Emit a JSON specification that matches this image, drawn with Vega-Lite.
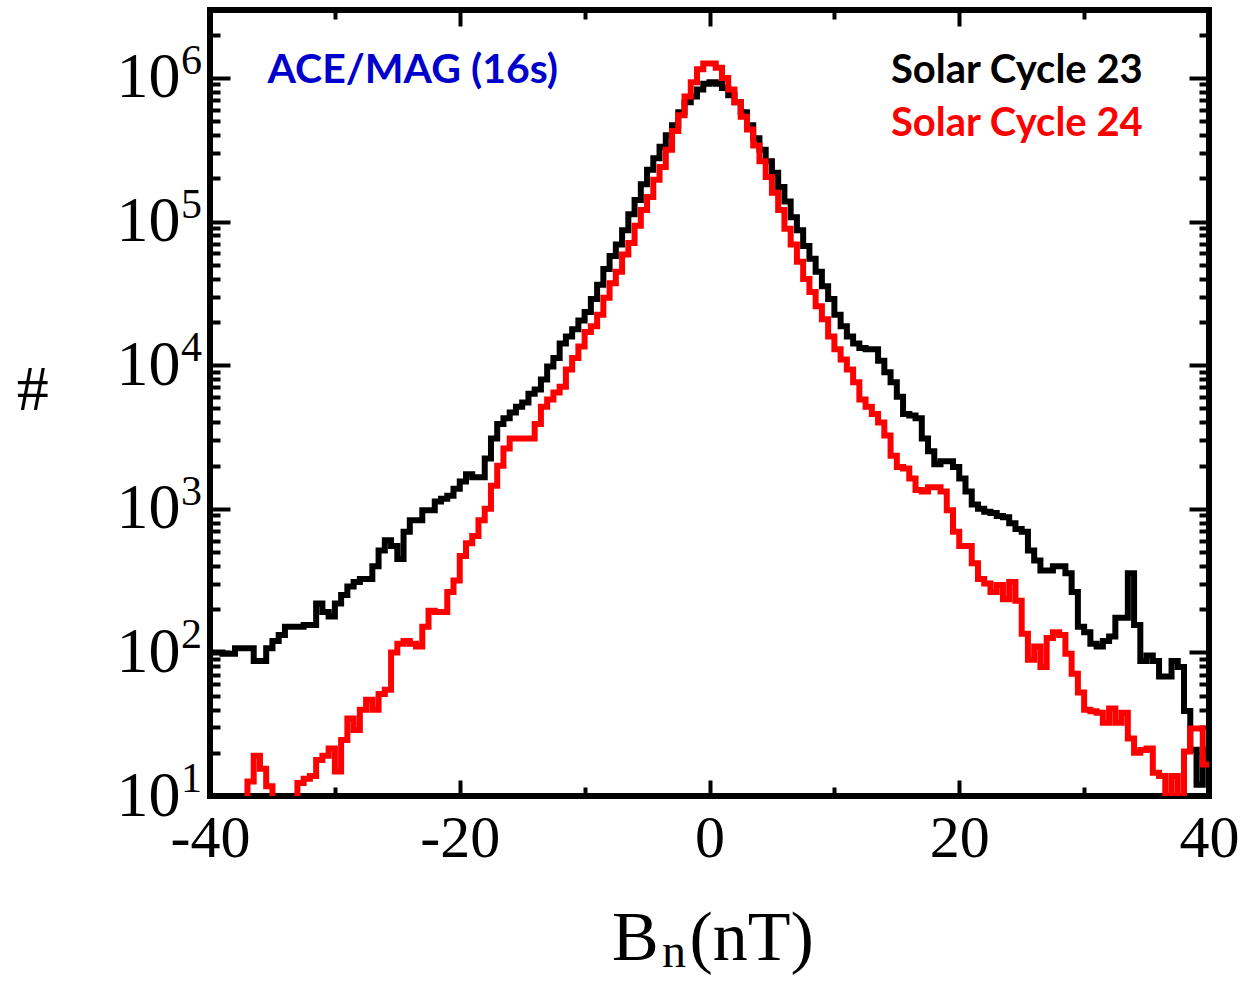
{
  "$schema": "https://vega.github.io/schema/vega-lite/v6.json",
  "width": 999,
  "height": 786,
  "autosize": "none",
  "padding": {"left": 210, "top": 10, "right": 31, "bottom": 187},
  "background": "white",
  "config": {
    "view": {"stroke": "#000000", "strokeWidth": 6},
    "font": "Liberation Serif",
    "axis": {"domain": false, "grid": false, "tickColor": "#000000", "tickWidth": 4, "labelColor": "#000000", "labelFont": "Liberation Serif", "title": null, "labelFlush": false, "labelOverlap": false, "labelBound": false}
  },
  "datasets": {
    "hist": [
      {"v": -40, "c": "23", "n": 100}, {"v": -39.5, "c": "23", "n": 100}, {"v": -39, "c": "23", "n": 98}, {"v": -38.5, "c": "23", "n": 98},
      {"v": -38, "c": "23", "n": 107}, {"v": -37.5, "c": "23", "n": 107}, {"v": -37, "c": "23", "n": 107}, {"v": -36.5, "c": "23", "n": 87},
      {"v": -36, "c": "23", "n": 87}, {"v": -35.5, "c": "23", "n": 107}, {"v": -35, "c": "23", "n": 120}, {"v": -34.5, "c": "23", "n": 132},
      {"v": -34, "c": "23", "n": 151}, {"v": -33.5, "c": "23", "n": 151}, {"v": -33, "c": "23", "n": 151}, {"v": -32.5, "c": "23", "n": 155},
      {"v": -32, "c": "23", "n": 155}, {"v": -31.5, "c": "23", "n": 219}, {"v": -31, "c": "23", "n": 191}, {"v": -30.5, "c": "23", "n": 178},
      {"v": -30, "c": "23", "n": 219}, {"v": -29.5, "c": "23", "n": 251}, {"v": -29, "c": "23", "n": 288}, {"v": -28.5, "c": "23", "n": 309},
      {"v": -28, "c": "23", "n": 324}, {"v": -27.5, "c": "23", "n": 324}, {"v": -27, "c": "23", "n": 398}, {"v": -26.5, "c": "23", "n": 513},
      {"v": -26, "c": "23", "n": 603}, {"v": -25.5, "c": "23", "n": 550}, {"v": -25, "c": "23", "n": 447}, {"v": -24.5, "c": "23", "n": 692},
      {"v": -24, "c": "23", "n": 832}, {"v": -23.5, "c": "23", "n": 832}, {"v": -23, "c": "23", "n": 977}, {"v": -22.5, "c": "23", "n": 977},
      {"v": -22, "c": "23", "n": 1122}, {"v": -21.5, "c": "23", "n": 1175}, {"v": -21, "c": "23", "n": 1230}, {"v": -20.5, "c": "23", "n": 1380},
      {"v": -20, "c": "23", "n": 1549}, {"v": -19.5, "c": "23", "n": 1738}, {"v": -19, "c": "23", "n": 1660}, {"v": -18.5, "c": "23", "n": 1660},
      {"v": -18, "c": "23", "n": 2239}, {"v": -17.5, "c": "23", "n": 3090}, {"v": -17, "c": "23", "n": 3890}, {"v": -16.5, "c": "23", "n": 4266},
      {"v": -16, "c": "23", "n": 4677}, {"v": -15.5, "c": "23", "n": 5129}, {"v": -15, "c": "23", "n": 5495}, {"v": -14.5, "c": "23", "n": 6310},
      {"v": -14, "c": "23", "n": 6761}, {"v": -13.5, "c": "23", "n": 7943}, {"v": -13, "c": "23", "n": 9772}, {"v": -12.5, "c": "23", "n": 11220},
      {"v": -12, "c": "23", "n": 14130}, {"v": -11.5, "c": "23", "n": 15850}, {"v": -11, "c": "23", "n": 17780}, {"v": -10.5, "c": "23", "n": 20420},
      {"v": -10, "c": "23", "n": 23440}, {"v": -9.5, "c": "23", "n": 28840}, {"v": -9, "c": "23", "n": 36310}, {"v": -8.5, "c": "23", "n": 46770},
      {"v": -8, "c": "23", "n": 57540}, {"v": -7.5, "c": "23", "n": 69180}, {"v": -7, "c": "23", "n": 87100}, {"v": -6.5, "c": "23", "n": 112200},
      {"v": -6, "c": "23", "n": 141300}, {"v": -5.5, "c": "23", "n": 182000}, {"v": -5, "c": "23", "n": 229100}, {"v": -4.5, "c": "23", "n": 275400},
      {"v": -4, "c": "23", "n": 331100}, {"v": -3.5, "c": "23", "n": 398100}, {"v": -3, "c": "23", "n": 467700}, {"v": -2.5, "c": "23", "n": 575400},
      {"v": -2, "c": "23", "n": 676100}, {"v": -1.5, "c": "23", "n": 741300}, {"v": -1, "c": "23", "n": 831800}, {"v": -0.5, "c": "23", "n": 912000},
      {"v": 0, "c": "23", "n": 933300}, {"v": 0.5, "c": "23", "n": 912000}, {"v": 1, "c": "23", "n": 851100}, {"v": 1.5, "c": "23", "n": 758600},
      {"v": 2, "c": "23", "n": 676100}, {"v": 2.5, "c": "23", "n": 575400}, {"v": 3, "c": "23", "n": 467700}, {"v": 3.5, "c": "23", "n": 380200},
      {"v": 4, "c": "23", "n": 316200}, {"v": 4.5, "c": "23", "n": 263000}, {"v": 5, "c": "23", "n": 218800}, {"v": 5.5, "c": "23", "n": 173800},
      {"v": 6, "c": "23", "n": 138000}, {"v": 6.5, "c": "23", "n": 107200}, {"v": 7, "c": "23", "n": 87100}, {"v": 7.5, "c": "23", "n": 67610},
      {"v": 8, "c": "23", "n": 54950}, {"v": 8.5, "c": "23", "n": 44670}, {"v": 9, "c": "23", "n": 35480}, {"v": 9.5, "c": "23", "n": 28840},
      {"v": 10, "c": "23", "n": 22390}, {"v": 10.5, "c": "23", "n": 18620}, {"v": 11, "c": "23", "n": 15850}, {"v": 11.5, "c": "23", "n": 14130},
      {"v": 12, "c": "23", "n": 13180}, {"v": 12.5, "c": "23", "n": 12880}, {"v": 13, "c": "23", "n": 12880}, {"v": 13.5, "c": "23", "n": 10720},
      {"v": 14, "c": "23", "n": 8913}, {"v": 14.5, "c": "23", "n": 7586}, {"v": 15, "c": "23", "n": 6026}, {"v": 15.5, "c": "23", "n": 4571},
      {"v": 16, "c": "23", "n": 4467}, {"v": 16.5, "c": "23", "n": 4266}, {"v": 17, "c": "23", "n": 3090}, {"v": 17.5, "c": "23", "n": 2512},
      {"v": 18, "c": "23", "n": 2042}, {"v": 18.5, "c": "23", "n": 2138}, {"v": 19, "c": "23", "n": 2138}, {"v": 19.5, "c": "23", "n": 1950},
      {"v": 20, "c": "23", "n": 1622}, {"v": 20.5, "c": "23", "n": 1318}, {"v": 21, "c": "23", "n": 1072}, {"v": 21.5, "c": "23", "n": 1000},
      {"v": 22, "c": "23", "n": 955}, {"v": 22.5, "c": "23", "n": 933}, {"v": 23, "c": "23", "n": 891}, {"v": 23.5, "c": "23", "n": 871},
      {"v": 24, "c": "23", "n": 794}, {"v": 24.5, "c": "23", "n": 724}, {"v": 25, "c": "23", "n": 692}, {"v": 25.5, "c": "23", "n": 513},
      {"v": 26, "c": "23", "n": 437}, {"v": 26.5, "c": "23", "n": 372}, {"v": 27, "c": "23", "n": 372}, {"v": 27.5, "c": "23", "n": 398},
      {"v": 28, "c": "23", "n": 398}, {"v": 28.5, "c": "23", "n": 355}, {"v": 29, "c": "23", "n": 263}, {"v": 29.5, "c": "23", "n": 151},
      {"v": 30, "c": "23", "n": 138}, {"v": 30.5, "c": "23", "n": 115}, {"v": 31, "c": "23", "n": 110}, {"v": 31.5, "c": "23", "n": 120},
      {"v": 32, "c": "23", "n": 129}, {"v": 32.5, "c": "23", "n": 174}, {"v": 33, "c": "23", "n": 174}, {"v": 33.5, "c": "23", "n": 355},
      {"v": 34, "c": "23", "n": 155}, {"v": 34.5, "c": "23", "n": 87}, {"v": 35, "c": "23", "n": 95}, {"v": 35.5, "c": "23", "n": 87},
      {"v": 36, "c": "23", "n": 68}, {"v": 36.5, "c": "23", "n": 68}, {"v": 37, "c": "23", "n": 87}, {"v": 37.5, "c": "23", "n": 79},
      {"v": 38, "c": "23", "n": 39}, {"v": 38.5, "c": "23", "n": 21}, {"v": 39, "c": "23", "n": 12}, {"v": 39.5, "c": "23", "n": 21},
      {"v": 40, "c": "23", "n": 21},
      {"v": -40, "c": "24", "n": 1}, {"v": -39.5, "c": "24", "n": 1}, {"v": -39, "c": "24", "n": 1}, {"v": -38.5, "c": "24", "n": 1},
      {"v": -38, "c": "24", "n": 1}, {"v": -37.5, "c": "24", "n": 1}, {"v": -37, "c": "24", "n": 12.6}, {"v": -36.5, "c": "24", "n": 19.1},
      {"v": -36, "c": "24", "n": 15.5}, {"v": -35.5, "c": "24", "n": 11.7}, {"v": -35, "c": "24", "n": 1}, {"v": -34.5, "c": "24", "n": 1},
      {"v": -34, "c": "24", "n": 1}, {"v": -33.5, "c": "24", "n": 1}, {"v": -33, "c": "24", "n": 12.3}, {"v": -32.5, "c": "24", "n": 13.2},
      {"v": -32, "c": "24", "n": 13.8}, {"v": -31.5, "c": "24", "n": 17.8}, {"v": -31, "c": "24", "n": 19.1}, {"v": -30.5, "c": "24", "n": 21.4},
      {"v": -30, "c": "24", "n": 14.8}, {"v": -29.5, "c": "24", "n": 24.5}, {"v": -29, "c": "24", "n": 34.7}, {"v": -28.5, "c": "24", "n": 28.8},
      {"v": -28, "c": "24", "n": 39.8}, {"v": -27.5, "c": "24", "n": 46.8}, {"v": -27, "c": "24", "n": 39.8}, {"v": -26.5, "c": "24", "n": 51.3},
      {"v": -26, "c": "24", "n": 55}, {"v": -25.5, "c": "24", "n": 100}, {"v": -25, "c": "24", "n": 115}, {"v": -24.5, "c": "24", "n": 120},
      {"v": -24, "c": "24", "n": 115}, {"v": -23.5, "c": "24", "n": 110}, {"v": -23, "c": "24", "n": 151}, {"v": -22.5, "c": "24", "n": 195},
      {"v": -22, "c": "24", "n": 191}, {"v": -21.5, "c": "24", "n": 191}, {"v": -21, "c": "24", "n": 263}, {"v": -20.5, "c": "24", "n": 316},
      {"v": -20, "c": "24", "n": 468}, {"v": -19.5, "c": "24", "n": 575}, {"v": -19, "c": "24", "n": 646}, {"v": -18.5, "c": "24", "n": 832},
      {"v": -18, "c": "24", "n": 1000}, {"v": -17.5, "c": "24", "n": 1445}, {"v": -17, "c": "24", "n": 1995}, {"v": -16.5, "c": "24", "n": 2630},
      {"v": -16, "c": "24", "n": 3090}, {"v": -15.5, "c": "24", "n": 3090}, {"v": -15, "c": "24", "n": 3090}, {"v": -14.5, "c": "24", "n": 3090},
      {"v": -14, "c": "24", "n": 3890}, {"v": -13.5, "c": "24", "n": 5129}, {"v": -13, "c": "24", "n": 5754}, {"v": -12.5, "c": "24", "n": 6457},
      {"v": -12, "c": "24", "n": 7079}, {"v": -11.5, "c": "24", "n": 9333}, {"v": -11, "c": "24", "n": 11220}, {"v": -10.5, "c": "24", "n": 13490},
      {"v": -10, "c": "24", "n": 16980}, {"v": -9.5, "c": "24", "n": 18620}, {"v": -9, "c": "24", "n": 22390}, {"v": -8.5, "c": "24", "n": 29510},
      {"v": -8, "c": "24", "n": 37150}, {"v": -7.5, "c": "24", "n": 44670}, {"v": -7, "c": "24", "n": 58880}, {"v": -6.5, "c": "24", "n": 70790},
      {"v": -6, "c": "24", "n": 93330}, {"v": -5.5, "c": "24", "n": 120200}, {"v": -5, "c": "24", "n": 147900}, {"v": -4.5, "c": "24", "n": 195000},
      {"v": -4, "c": "24", "n": 239900}, {"v": -3.5, "c": "24", "n": 316200}, {"v": -3, "c": "24", "n": 426600}, {"v": -2.5, "c": "24", "n": 549500},
      {"v": -2, "c": "24", "n": 741300}, {"v": -1.5, "c": "24", "n": 933300}, {"v": -1, "c": "24", "n": 1148000}, {"v": -0.5, "c": "24", "n": 1259000},
      {"v": 0, "c": "24", "n": 1259000}, {"v": 0.5, "c": "24", "n": 1175000}, {"v": 1, "c": "24", "n": 1000000}, {"v": 1.5, "c": "24", "n": 831800},
      {"v": 2, "c": "24", "n": 676100}, {"v": 2.5, "c": "24", "n": 537000}, {"v": 3, "c": "24", "n": 436500}, {"v": 3.5, "c": "24", "n": 338800},
      {"v": 4, "c": "24", "n": 263000}, {"v": 4.5, "c": "24", "n": 204200}, {"v": 5, "c": "24", "n": 158500}, {"v": 5.5, "c": "24", "n": 120200},
      {"v": 6, "c": "24", "n": 89130}, {"v": 6.5, "c": "24", "n": 69180}, {"v": 7, "c": "24", "n": 52480}, {"v": 7.5, "c": "24", "n": 39810},
      {"v": 8, "c": "24", "n": 32360}, {"v": 8.5, "c": "24", "n": 25700}, {"v": 9, "c": "24", "n": 20890}, {"v": 9.5, "c": "24", "n": 15850},
      {"v": 10, "c": "24", "n": 12880}, {"v": 10.5, "c": "24", "n": 10960}, {"v": 11, "c": "24", "n": 9333}, {"v": 11.5, "c": "24", "n": 7586},
      {"v": 12, "c": "24", "n": 5754}, {"v": 12.5, "c": "24", "n": 5129}, {"v": 13, "c": "24", "n": 4571}, {"v": 13.5, "c": "24", "n": 3981},
      {"v": 14, "c": "24", "n": 3236}, {"v": 14.5, "c": "24", "n": 2344}, {"v": 15, "c": "24", "n": 1950}, {"v": 15.5, "c": "24", "n": 1905},
      {"v": 16, "c": "24", "n": 1622}, {"v": 16.5, "c": "24", "n": 1349}, {"v": 17, "c": "24", "n": 1318}, {"v": 17.5, "c": "24", "n": 1413},
      {"v": 18, "c": "24", "n": 1413}, {"v": 18.5, "c": "24", "n": 1318}, {"v": 19, "c": "24", "n": 977}, {"v": 19.5, "c": "24", "n": 692},
      {"v": 20, "c": "24", "n": 550}, {"v": 20.5, "c": "24", "n": 550}, {"v": 21, "c": "24", "n": 417}, {"v": 21.5, "c": "24", "n": 324},
      {"v": 22, "c": "24", "n": 302}, {"v": 22.5, "c": "24", "n": 263}, {"v": 23, "c": "24", "n": 295}, {"v": 23.5, "c": "24", "n": 234},
      {"v": 24, "c": "24", "n": 309}, {"v": 24.5, "c": "24", "n": 229}, {"v": 25, "c": "24", "n": 135}, {"v": 25.5, "c": "24", "n": 89},
      {"v": 26, "c": "24", "n": 110}, {"v": 26.5, "c": "24", "n": 79}, {"v": 27, "c": "24", "n": 126}, {"v": 27.5, "c": "24", "n": 138},
      {"v": 28, "c": "24", "n": 132}, {"v": 28.5, "c": "24", "n": 98}, {"v": 29, "c": "24", "n": 71}, {"v": 29.5, "c": "24", "n": 52.5},
      {"v": 30, "c": "24", "n": 39.8}, {"v": 30.5, "c": "24", "n": 38.9}, {"v": 31, "c": "24", "n": 38}, {"v": 31.5, "c": "24", "n": 32.4},
      {"v": 32, "c": "24", "n": 40.7}, {"v": 32.5, "c": "24", "n": 32.4}, {"v": 33, "c": "24", "n": 38}, {"v": 33.5, "c": "24", "n": 25.1},
      {"v": 34, "c": "24", "n": 20}, {"v": 34.5, "c": "24", "n": 20.9}, {"v": 35, "c": "24", "n": 21.4}, {"v": 35.5, "c": "24", "n": 14.5},
      {"v": 36, "c": "24", "n": 13.8}, {"v": 36.5, "c": "24", "n": 1}, {"v": 37, "c": "24", "n": 13.8}, {"v": 37.5, "c": "24", "n": 1},
      {"v": 38, "c": "24", "n": 20.4}, {"v": 38.5, "c": "24", "n": 29.5}, {"v": 39, "c": "24", "n": 29.5}, {"v": 39.5, "c": "24", "n": 16.6},
      {"v": 40, "c": "24", "n": 16.6}
    ],
    "expo": [
      {"t": 10, "e": "1"}, {"t": 100, "e": "2"}, {"t": 1000, "e": "3"},
      {"t": 10000, "e": "4"}, {"t": 100000, "e": "5"}, {"t": 1000000, "e": "6"}
    ],
    "one": [{"k": 1}]
  },
  "layer": [
    {
      "data": {"name": "hist"},
      "mark": {"type": "line", "interpolate": "step-after", "strokeWidth": 6, "clip": true},
      "encoding": {
        "x": {
          "field": "v", "type": "quantitative",
          "scale": {"domain": [-40, 40], "nice": false, "zero": false},
          "axis": {
            "orient": "bottom",
            "values": [-40, -30, -20, -10, 0, 10, 20, 30, 40],
            "labelExpr": "indexof([-40, -20, 0, 20, 40], datum.value) >= 0 ? '' + datum.value : ''",
            "tickSize": {"condition": {"test": "indexof([-40, -20, 0, 20, 40], datum.value) >= 0", "value": -16}, "value": -9},
            "labelFontSize": 60,
            "labelPadding": 29
          }
        },
        "y": {
          "field": "n", "type": "quantitative",
          "scale": {"type": "log", "domain": [10, 2970000], "nice": false},
          "axis": {
            "orient": "left",
            "values": [10, 20, 30, 40, 50, 60, 70, 80, 90, 100, 200, 300, 400, 500, 600, 700, 800, 900, 1000, 2000, 3000, 4000, 5000, 6000, 7000, 8000, 9000, 10000, 20000, 30000, 40000, 50000, 60000, 70000, 80000, 90000, 100000, 200000, 300000, 400000, 500000, 600000, 700000, 800000, 900000, 1000000, 2000000],
            "labelExpr": "indexof([10, 100, 1000, 10000, 100000, 1000000], datum.value) >= 0 ? '10' : ''",
            "tickSize": {"condition": {"test": "indexof([10, 100, 1000, 10000, 100000, 1000000], datum.value) >= 0", "value": -20}, "value": -10},
            "labelFontSize": 64,
            "labelPadding": 50,
            "labelBaseline": "middle"
          }
        },
        "color": {
          "field": "c", "type": "nominal",
          "scale": {"domain": ["23", "24"], "range": ["#000000", "#ff0000"]},
          "legend": null
        }
      }
    },
    {
      "data": {"name": "expo"},
      "mark": {"type": "text", "font": "Liberation Serif", "fontSize": 42, "align": "left", "baseline": "middle", "dx": -29, "dy": -17, "color": "#000000", "clip": false},
      "encoding": {
        "x": {
          "datum": -40, "type": "quantitative",
          "axis": {
            "orient": "top",
            "values": [-40, -30, -20, -10, 0, 10, 20, 30, 40],
            "labels": false,
            "tickSize": {"condition": {"test": "indexof([-40, -20, 0, 20, 40], datum.value) >= 0", "value": -16}, "value": -9}
          }
        },
        "y": {
          "field": "t", "type": "quantitative",
          "axis": {
            "orient": "right",
            "values": [10, 20, 30, 40, 50, 60, 70, 80, 90, 100, 200, 300, 400, 500, 600, 700, 800, 900, 1000, 2000, 3000, 4000, 5000, 6000, 7000, 8000, 9000, 10000, 20000, 30000, 40000, 50000, 60000, 70000, 80000, 90000, 100000, 200000, 300000, 400000, 500000, 600000, 700000, 800000, 900000, 1000000, 2000000],
            "labels": false,
            "tickSize": {"condition": {"test": "indexof([10, 100, 1000, 10000, 100000, 1000000], datum.value) >= 0", "value": -20}, "value": -10}
          }
        },
        "text": {"field": "e"}
      }
    },
    {
      "data": {"name": "one"},
      "mark": {"type": "text", "text": "ACE/MAG (16s)", "font": "Lato", "fontWeight": "bold", "fontSize": 41, "color": "#0000CC", "align": "left", "baseline": "alphabetic"},
      "encoding": {"x": {"datum": -35.4, "axis": null}, "y": {"datum": 922800, "axis": null}}
    },
    {
      "data": {"name": "one"},
      "mark": {"type": "text", "text": "Solar Cycle 23", "font": "Lato", "fontWeight": "bold", "fontSize": 40, "color": "#000000", "align": "right", "baseline": "alphabetic"},
      "encoding": {"x": {"datum": 34.7, "axis": null}, "y": {"datum": 922800, "axis": null}}
    },
    {
      "data": {"name": "one"},
      "mark": {"type": "text", "text": "Solar Cycle 24", "font": "Lato", "fontWeight": "bold", "fontSize": 40, "color": "#ff0000", "align": "right", "baseline": "alphabetic"},
      "encoding": {"x": {"datum": 34.7, "axis": null}, "y": {"datum": 394500, "axis": null}}
    },
    {
      "data": {"name": "one"},
      "mark": {"type": "text", "text": "#", "font": "Liberation Serif", "fontSize": 64, "color": "#000000", "align": "center", "baseline": "alphabetic", "clip": false},
      "encoding": {"x": {"datum": -54.2, "axis": null}, "y": {"datum": 4875, "axis": null}}
    },
    {
      "data": {"name": "one"},
      "mark": {"type": "text", "text": "B", "font": "Liberation Serif", "fontSize": 70, "color": "#000000", "align": "left", "baseline": "alphabetic", "dy": 164, "clip": false},
      "encoding": {"x": {"datum": -7.8, "axis": null}, "y": {"datum": 10, "axis": null}}
    },
    {
      "data": {"name": "one"},
      "mark": {"type": "text", "text": "n", "font": "Liberation Serif", "fontSize": 48, "color": "#000000", "align": "left", "baseline": "alphabetic", "dy": 171, "clip": false},
      "encoding": {"x": {"datum": -3.8, "axis": null}, "y": {"datum": 10, "axis": null}}
    },
    {
      "data": {"name": "one"},
      "mark": {"type": "text", "text": "(nT)", "font": "Liberation Serif", "fontSize": 70, "color": "#000000", "align": "left", "baseline": "alphabetic", "dy": 164, "clip": false},
      "encoding": {"x": {"datum": -1.6, "axis": null}, "y": {"datum": 10, "axis": null}}
    }
  ],
  "resolve": {"axis": {"x": "independent", "y": "independent"}}
}
